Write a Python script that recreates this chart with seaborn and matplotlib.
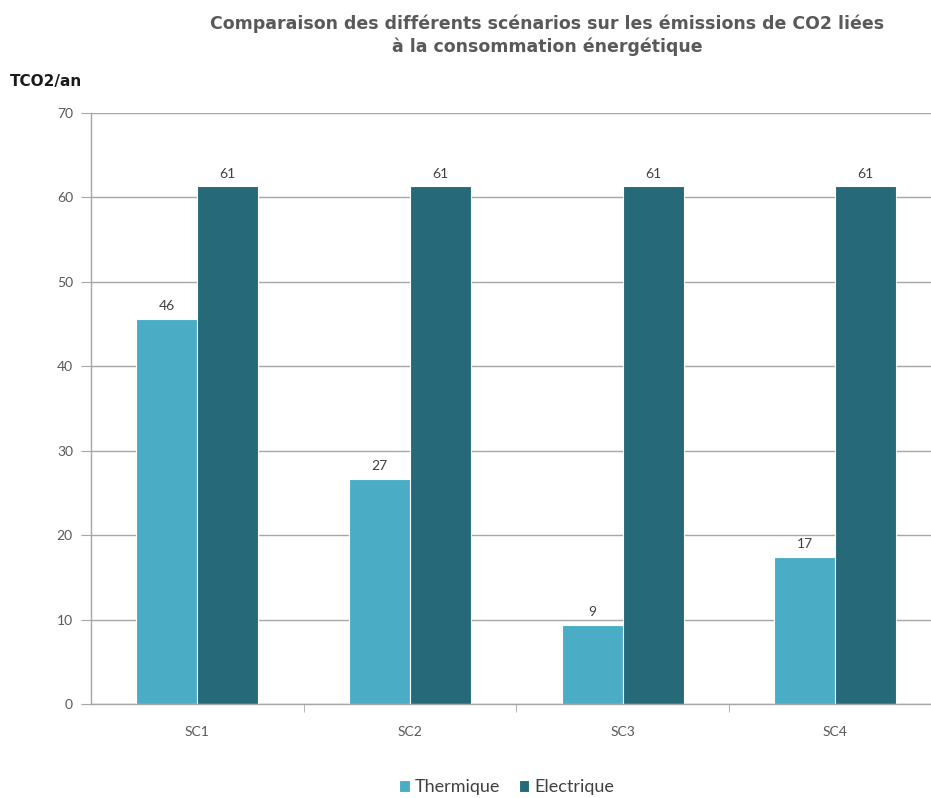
import matplotlib
matplotlib.use("Agg")
import matplotlib.pyplot as plt
import seaborn as sns
import pandas as pd
from matplotlib.ticker import FixedLocator

scenarios = ["SC1", "SC2", "SC3", "SC4"]
thermique = [45.6, 26.6, 9.4, 17.4]
electrique = [61.3, 61.3, 61.3, 61.3]
series = ["Thermique", "Electrique"]
colors = ["#4BACC6", "#266A7A"]

df = pd.DataFrame({
    "scenario": scenarios * 2,
    "valeur": thermique + electrique,
    "type": [series[0]] * 4 + [series[1]] * 4,
})

sns.set_style("white")
plt.rcParams["font.family"] = ["Lato", "DejaVu Sans"]

fig = plt.figure(figsize=(9.31, 7.98), dpi=100)
ax = fig.add_axes([0.0977, 0.1178, 0.9023, 0.7406])

sns.barplot(data=df, x="scenario", y="valeur", hue="type",
            palette=colors, width=0.574, saturation=1,
            edgecolor="white", linewidth=0.8, ax=ax)

for c in ax.containers:
    ax.bar_label(c, fmt="%.0f", padding=5, fontsize=10, color="#404040")

ax.set_ylim(0, 70)
ax.set_xlim(-0.5, 3.45)
ax.set_yticks(range(0, 71, 10))
ax.yaxis.grid(True, color="#A6A6A6", linewidth=1)
ax.set_axisbelow(True)
ax.set_xlabel("")
ax.set_ylabel("")
for s in ["top", "right"]:
    ax.spines[s].set_visible(False)
for s in ["left", "bottom"]:
    ax.spines[s].set_color("#A6A6A6")
    ax.spines[s].set_linewidth(1)

ax.tick_params(axis="y", left=True, length=7, color="#A6A6A6",
               labelsize=10, labelcolor="#595959", pad=6)
ax.tick_params(axis="x", bottom=False, labelsize=10, labelcolor="#595959",
               pad=12)
ax.xaxis.set_minor_locator(FixedLocator([0.5, 1.5, 2.5]))
ax.tick_params(axis="x", which="minor", bottom=True, length=6,
               color="#A6A6A6", direction="out")

fig.text(0.588, 0.982, "Comparaison des différents scénarios sur les émissions de CO2 liées\nà la consommation énergétique",
         ha="center", va="top", fontsize=12.5, fontweight="bold",
         color="#595959", linespacing=1.3, family=["DejaVu Sans"])
fig.text(0.011, 0.898, "TCO2/an", ha="left", va="center", fontsize=11,
         fontweight="bold", color="#1a1a1a", family=["DejaVu Sans"])

ax.legend(loc="lower center", bbox_to_anchor=(0.495, -0.182), ncol=2,
          frameon=False, fontsize=13, handlelength=0.6, handleheight=0.6,
          handletextpad=0.3, columnspacing=1.0, labelcolor="#404040")

fig.savefig("out.png", dpi=100)
